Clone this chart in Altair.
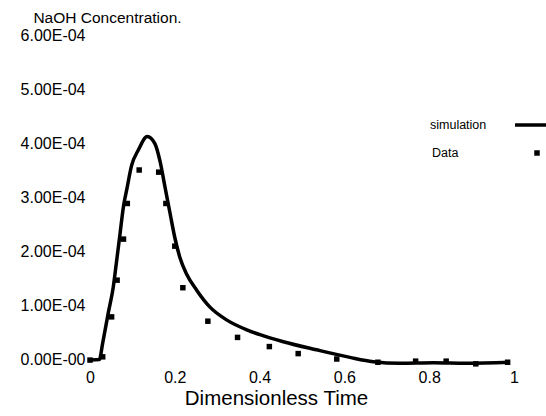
import altair as alt
import pandas as pd

# Simulation curve (dimensionless time, NaOH concentration)
sim_t = [0.0, 0.022, 0.03, 0.043, 0.055, 0.063, 0.071, 0.079, 0.087, 0.098, 0.114,
         0.135, 0.153, 0.165, 0.177, 0.189, 0.200, 0.212, 0.228, 0.252, 0.283,
         0.323, 0.370, 0.401, 0.456, 0.534, 0.613, 0.668, 0.731, 0.810, 0.888, 0.990]
sim_c = [-0.02e-4, -0.01e-4, 0.30e-4, 0.85e-4, 1.34e-4, 1.83e-4, 2.33e-4, 2.83e-4, 3.15e-4,
         3.58e-4, 3.87e-4, 4.12e-4, 3.99e-4, 3.67e-4, 3.18e-4, 2.69e-4, 2.25e-4, 1.88e-4,
         1.57e-4, 1.27e-4, 0.96e-4, 0.72e-4, 0.54e-4, 0.45e-4, 0.32e-4, 0.17e-4, 0.03e-4,
         -0.05e-4, -0.08e-4, -0.07e-4, -0.08e-4, -0.06e-4]

# Measured data
data_t = [0.0, 0.030, 0.051, 0.064, 0.079, 0.088, 0.116, 0.162, 0.179, 0.200, 0.219,
          0.278, 0.348, 0.423, 0.491, 0.582, 0.679, 0.768, 0.840, 0.910, 0.985]
data_c = [-0.02e-4, 0.04e-4, 0.78e-4, 1.46e-4, 2.22e-4, 2.88e-4, 3.50e-4, 3.46e-4, 2.88e-4,
          2.09e-4, 1.32e-4, 0.70e-4, 0.40e-4, 0.23e-4, 0.10e-4, 0.0, -0.06e-4, -0.04e-4,
          -0.04e-4, -0.09e-4, -0.06e-4]

x_ticks = [0, 0.2, 0.4, 0.6, 0.8, 1]
y_ticks = [0, 1e-4, 2e-4, 3e-4, 4e-4, 5e-4, 6e-4]

legend_labels = ["simulation", "Data"]

FONT = "Liberation Sans"

sim_df = pd.DataFrame({"t": sim_t, "c": sim_c, "i": list(range(len(sim_t)))})
data_df = pd.DataFrame({"t": data_t, "c": data_c})

x_enc = alt.X("t:Q",
              scale=alt.Scale(domain=[0, 1], nice=False, zero=False),
              axis=alt.Axis(values=x_ticks, format="~g", grid=False, domain=False,
                            ticks=False, labelFont=FONT, labelFontSize=16,
                            labelColor="black", labelPadding=10, labelFlush=False,
                            title="Dimensionless Time", titleFont=FONT,
                            titleFontSize=20.5, titleFontWeight="normal",
                            titleColor="black", titleX=186, titleY=39,
                            titleBaseline="middle", titleAlign="center"))
y_enc = alt.Y("c:Q",
              scale=alt.Scale(domain=[0, 6e-4], nice=False, zero=False),
              axis=alt.Axis(values=y_ticks, grid=False, domain=False, ticks=False,
                            labelExpr="datum.value == 0 ? '0.00E-00' : format(datum.value * 10000, '.2f') + 'E-04'",
                            labelFont=FONT, labelFontSize=16, labelColor="black",
                            labelPadding=5, labelFlush=False,
                            title="NaOH Concentration.", titleFont=FONT,
                            titleFontSize=15.5, titleFontWeight="normal",
                            titleColor="black", titleAngle=0, titleX=17, titleY=-18,
                            titleAlign="center", titleBaseline="middle"))

line = alt.Chart(sim_df).mark_line(color="black", strokeWidth=3.5,
                                   interpolate="monotone").encode(
    x=x_enc, y=y_enc, order="i:Q")

pts = alt.Chart(data_df).mark_square(color="black", size=30, opacity=1).encode(
    x="t:Q", y="c:Q")

leg_df = pd.DataFrame({"label": legend_labels})
leg_sim_text = alt.Chart(leg_df).transform_filter(alt.datum.label == "simulation").mark_text(
    align="left", baseline="middle", font=FONT, fontSize=12.5, color="black").encode(
    text="label:N", x=alt.value(340), y=alt.value(90))
leg_data_text = alt.Chart(leg_df).transform_filter(alt.datum.label == "Data").mark_text(
    align="left", baseline="middle", font=FONT, fontSize=12.5, color="black").encode(
    text="label:N", x=alt.value(342), y=alt.value(118))
leg_line = alt.Chart(leg_df).transform_filter(alt.datum.label == "simulation").mark_rule(
    color="black", strokeWidth=3.5).encode(
    x=alt.value(425), x2=alt.value(460), y=alt.value(90))
leg_sq = alt.Chart(leg_df).transform_filter(alt.datum.label == "Data").mark_square(
    color="black", size=30, opacity=1).encode(
    x=alt.value(447), y=alt.value(118))

chart = alt.layer(line, pts, leg_sim_text, leg_data_text, leg_line, leg_sq).properties(
    width=424, height=324,
    autosize=alt.AutoSizeParams(type="none"),
    padding={"left": 90, "top": 35, "right": 32, "bottom": 57},
    background="white",
).configure_view(stroke=None)

chart.save("out.html", embed_options={"renderer": "svg", "actions": False})
